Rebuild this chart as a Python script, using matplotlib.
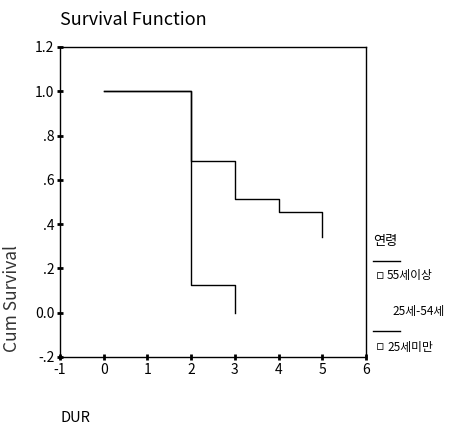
import numpy as np
import matplotlib.pyplot as plt

plt.rcParams['font.family'] = ['Noto Sans CJK KR', 'DejaVu Sans']
plt.rcParams['axes.unicode_minus'] = False

# step survival curves (time, cumulative survival)
t_a = [0, 2, 3, 4, 5]
s_a = [1.0, 0.686, 0.514, 0.457, 0.343]
t_b = [0, 2, 3]
s_b = [1.0, 0.125, 0.0]

xticks = [-1, 0, 1, 2, 3, 4, 5, 6]
yticks = [-0.2, 0.0, 0.2, 0.4, 0.6, 0.8, 1.0, 1.2]
ylabels = ['-.2', '0.0', '.2', '.4', '.6', '.8', '1.0', '1.2']

legend_title = '연령'
legend_items = ['55세이상', '25세-54세', '25세미만']

fig = plt.figure(figsize=(4.54, 4.33), dpi=100)
W, H = 454, 433
ax = fig.add_axes([60 / W, (H - 357) / H, 306 / W, 310 / H])

def steps(t, s):
    xs, ys = [t[0]], [s[0]]
    for i in range(1, len(t)):
        xs += [t[i], t[i]]
        ys += [s[i - 1], s[i]]
    return xs, ys

for t, s in [(t_a, s_a), (t_b, s_b)]:
    xs, ys = steps(t, s)
    ax.plot(xs, ys, color='black', lw=1.0)

ax.set_xlim(-1, 6)
ax.set_ylim(-0.2, 1.2)
ax.set_xticks(xticks)
ax.set_yticks(yticks)
ax.set_yticklabels(ylabels)
ax.tick_params(direction='inout', length=4, width=2, labelsize=10, pad=2)
for sp in ax.spines.values():
    sp.set_linewidth(1.0)

fig.text(60 / W, 1 - 20 / H, 'Survival Function', fontsize=13, va='center', ha='left')
fig.text(12 / W, 1 - 298 / H, 'Cum Survival', fontsize=12.5, rotation=90, va='center', ha='center',
         color='#333333')
fig.text(60 / W, 1 - 418 / H, 'DUR', fontsize=10.5, va='center', ha='left')

# legend drawn by hand
fig.text(373 / W, 1 - 242 / H, legend_title, fontsize=9.5, va='center', ha='left')
fig.add_artist(plt.Line2D([373 / W, 400 / W], [1 - 261 / H, 1 - 261 / H], color='black', lw=1))
fig.text(376 / W, 1 - 276 / H, '▫', fontsize=9, va='center', ha='left', family='DejaVu Sans')
fig.text(387 / W, 1 - 276 / H, legend_items[0], fontsize=8.5, va='center', ha='left')
fig.text(392 / W, 1 - 311 / H, legend_items[1], fontsize=8.5, va='center', ha='left')
fig.add_artist(plt.Line2D([373 / W, 400 / W], [1 - 331 / H, 1 - 331 / H], color='black', lw=1))
fig.text(376 / W, 1 - 347 / H, '▫', fontsize=9, va='center', ha='left', family='DejaVu Sans')
fig.text(387 / W, 1 - 347 / H, legend_items[2], fontsize=8.5, va='center', ha='left')

fig.savefig('out.png', dpi=100)
